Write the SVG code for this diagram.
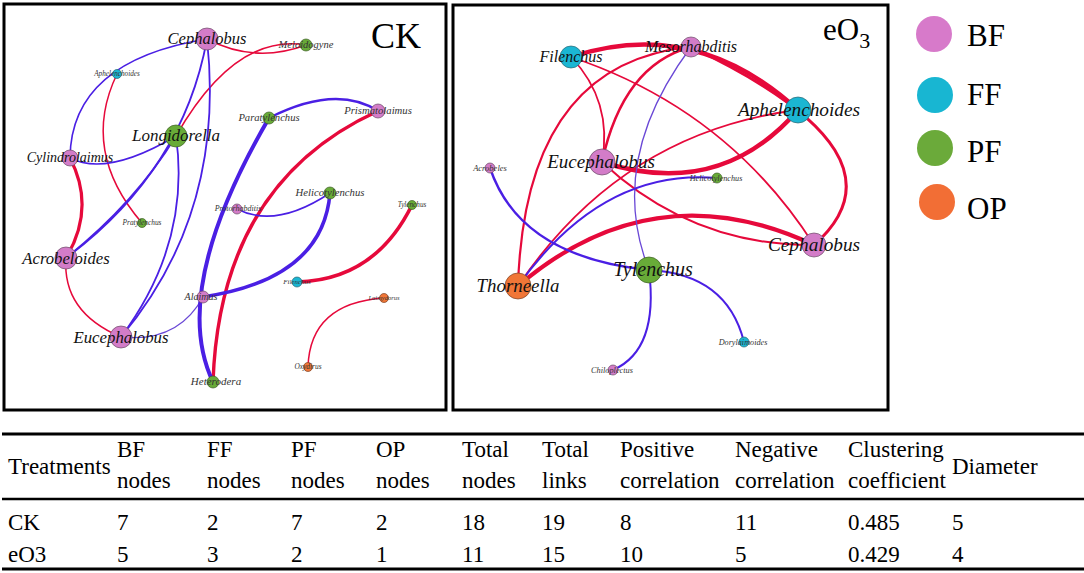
<svg xmlns="http://www.w3.org/2000/svg" width="1084" height="573" viewBox="0 0 1084 573">
<style>
.bg{fill:#fff}
.box{fill:none;stroke:#000;stroke-width:3}
.e{fill:none;stroke-linecap:round}
.pos{stroke:#E6093B}
.neg{stroke:#4A1FE4}
.negl{stroke:#6A48D6}
.bf{fill:#D37CC8;stroke:#6a4a66;stroke-width:0.7}
.ff{fill:#1BB6D3;stroke:#2a6672;stroke-width:0.7}
.pf{fill:#68AB38;stroke:#3d5f25;stroke-width:0.7}
.op{fill:#F17637;stroke:#7a4426;stroke-width:0.7}
.lb{font-family:"Liberation Serif",serif;font-style:italic;fill:#111;text-anchor:middle}
.sl{font-family:"Liberation Serif",serif;font-style:italic;fill:#333;text-anchor:middle}
.ttl{font-family:"Liberation Serif",serif;fill:#000}
.tb{font-family:"Liberation Serif",serif;font-size:23px;fill:#000}
.rule{stroke:#000}
</style>
<rect class="bg" x="0" y="0" width="1084" height="573"/>

<!-- Panel frames -->
<rect class="box" x="4" y="4" width="442" height="406"/>
<rect class="box" x="453" y="5" width="435" height="405"/>
<text class="ttl" x="371" y="48" font-size="36">CK</text>
<text class="ttl" x="823" y="40" font-size="31">eO<tspan font-size="22" dy="8">3</tspan></text>

<!-- Connectors -->
<g id="connectors">
  <!-- CK positive -->
  <path class="e pos" stroke-width="1.6" d="M207,39 Q255,64 306,45"/>
  <path class="e pos" stroke-width="1.6" d="M176,136 Q235,33 306,45"/>
  <path class="e pos" stroke-width="1.5" d="M117,74 Q80,151 142,223"/>
  <path class="e pos" stroke-width="3.2" d="M70,158 Q96,208 66,258"/>
  <path class="e pos" stroke-width="1.5" d="M66,258 Q62,312 121,337"/>
  <path class="e pos" stroke-width="3.4" d="M378,111 Q220,183 213,382"/>
  <path class="e pos" stroke-width="3.6" d="M412,205 Q375,280 297,282"/>
  <path class="e pos" stroke-width="1.5" d="M384,298 Q310,303 308,367"/>
  <!-- CK negative -->
  <path class="e neg" stroke-width="1.6" d="M207,39 Q71,61 70,158"/>
  <path class="e neg" stroke-width="1.6" d="M70,158 Q107,177 176,136"/>
  <path class="e neg" stroke-width="1.8" d="M176,136 Q135,203 66,258"/>
  <path class="e neg" stroke-width="1.8" d="M207,39 Q183,171 66,258"/>
  <path class="e neg" stroke-width="1.8" d="M176,136 Q191,243 121,337"/>
  <path class="e neg" stroke-width="1.8" d="M207,39 Q226,212 121,337"/>
  <path class="e negl" stroke-width="1.3" d="M121,337 Q178,343 203,297"/>
  <path class="e neg" stroke-width="4" d="M269,118 Q169,290 213,382"/>
  <path class="e neg" stroke-width="2.5" d="M269,118 Q336,84 378,111"/>
  <path class="e neg" stroke-width="3.5" d="M330,193 Q323,279 203,297"/>
  <path class="e neg" stroke-width="1.6" d="M330,193 Q276,229 237,209"/>
  <!-- eO3 positive -->
  <path class="e pos" stroke-width="4.5" d="M571,57 Q695,16 798,110"/>
  <path class="e pos" stroke-width="4.5" d="M602,162 Q720,200 798,110"/>
  <path class="e pos" stroke-width="3" d="M691,47 Q917,154 814,245"/>
  <path class="e pos" stroke-width="1.8" d="M571,57 Q727,109 814,245"/>
  <path class="e pos" stroke-width="1.8" d="M571,57 Q613,101 602,162"/>
  <path class="e pos" stroke-width="2.5" d="M602,162 Q623,65 691,47"/>
  <path class="e pos" stroke-width="2.2" d="M518,286 Q525,63 691,47"/>
  <path class="e pos" stroke-width="1.8" d="M518,286 Q622,132 798,110"/>
  <path class="e pos" stroke-width="4.2" d="M518,286 Q654,170 814,245"/>
  <path class="e pos" stroke-width="2" d="M602,162 Q692,246 814,245"/>
  <!-- eO3 negative -->
  <path class="e neg" stroke-width="2.4" d="M490,168 Q520,257 649,270"/>
  <path class="e neg" stroke-width="2" d="M649,270 Q659,350 613,370"/>
  <path class="e neg" stroke-width="2" d="M649,270 Q727,274 744,342"/>
  <path class="e negl" stroke-width="1.3" d="M691,47 Q606,161 649,270"/>
  <path class="e neg" stroke-width="2" d="M518,286 Q602,168 717,178"/>
</g>

<!-- CK nodes -->
<g id="ck-cephalobus"><circle class="bf" cx="207" cy="39" r="11"/><text class="lb" x="207" y="44" font-size="16.5">Cephalobus</text></g>
<g id="ck-meloidogyne"><circle class="pf" cx="306" cy="45" r="6"/><text class="sl" x="306" y="48" font-size="10.5">Meloidogyne</text></g>
<g id="ck-aphelenchoides"><circle class="ff" cx="117" cy="74" r="4.5"/><text class="sl" x="117" y="76" font-size="7.2">Aphelenchoides</text></g>
<g id="ck-longidorella"><circle class="pf" cx="176" cy="136" r="11"/><text class="lb" x="176" y="141" font-size="17">Longidorella</text></g>
<g id="ck-cylindrolaimus"><circle class="bf" cx="70" cy="158" r="8"/><text class="lb" x="70" y="162" font-size="14">Cylindrolaimus</text></g>
<g id="ck-paratylenchus"><circle class="pf" cx="269" cy="118" r="6"/><text class="sl" x="269" y="121" font-size="10.6">Paratylenchus</text></g>
<g id="ck-prismatolaimus"><circle class="bf" cx="378" cy="111" r="7"/><text class="sl" x="378" y="114" font-size="10.7">Prismatolaimus</text></g>
<g id="ck-helicotylenchus"><circle class="pf" cx="330" cy="193" r="6"/><text class="sl" x="330" y="196" font-size="10.7">Helicotylenchus</text></g>
<g id="ck-tylenchus"><circle class="pf" cx="412" cy="205" r="4.5"/><text class="sl" x="412" y="207" font-size="7.2">Tylenchus</text></g>
<g id="ck-protorhabditis"><circle class="bf" cx="237" cy="209" r="5"/><text class="sl" x="238" y="211" font-size="8">Protorhabditis</text></g>
<g id="ck-pratylenchus"><circle class="pf" cx="142" cy="223" r="4.5"/><text class="sl" x="142" y="225" font-size="7.4">Pratylenchus</text></g>
<g id="ck-acrobeloides"><circle class="bf" cx="66" cy="258" r="11"/><text class="lb" x="66" y="264" font-size="16.7">Acrobeloides</text></g>
<g id="ck-filenchus"><circle class="ff" cx="297" cy="282" r="5"/><text class="sl" x="297" y="284" font-size="7">Filenchus</text></g>
<g id="ck-alaimus"><circle class="bf" cx="203" cy="297" r="6"/><text class="sl" x="201" y="300" font-size="10">Alaimus</text></g>
<g id="ck-laimydorus"><circle class="op" cx="384" cy="298" r="4.5"/><text class="sl" x="384" y="300" font-size="6.5">Laimydorus</text></g>
<g id="ck-eucephalobus"><circle class="bf" cx="121" cy="337" r="11"/><text class="lb" x="121" y="343" font-size="16.8">Eucephalobus</text></g>
<g id="ck-oxydirus"><circle class="op" cx="308" cy="367" r="4.5"/><text class="sl" x="308" y="369" font-size="7.4">Oxydirus</text></g>
<g id="ck-heterodera"><circle class="pf" cx="213" cy="382" r="6"/><text class="sl" x="216" y="385" font-size="11">Heterodera</text></g>

<!-- eO3 nodes -->
<g id="eo3-filenchus"><circle class="ff" cx="571" cy="57" r="11"/><text class="lb" x="571" y="62" font-size="16">Filenchus</text></g>
<g id="eo3-mesorhabditis"><circle class="bf" cx="691" cy="47" r="10"/><text class="lb" x="691" y="52" font-size="16">Mesorhabditis</text></g>
<g id="eo3-aphelenchoides"><circle class="ff" cx="798" cy="110" r="13"/><text class="lb" x="799" y="116" font-size="19.3">Aphelenchoides</text></g>
<g id="eo3-eucephalobus"><circle class="bf" cx="602" cy="162" r="13"/><text class="lb" x="601" y="168" font-size="19">Eucephalobus</text></g>
<g id="eo3-acrobeles"><circle class="bf" cx="490" cy="168" r="5"/><text class="sl" x="490" y="171" font-size="8.5">Acrobeles</text></g>
<g id="eo3-helicotylenchus"><circle class="pf" cx="717" cy="178" r="5"/><text class="sl" x="716" y="181" font-size="8.2">Helicotylenchus</text></g>
<g id="eo3-cephalobus"><circle class="bf" cx="814" cy="245" r="12"/><text class="lb" x="814" y="251" font-size="19.3">Cephalobus</text></g>
<g id="eo3-tylenchus"><circle class="pf" cx="649" cy="270" r="13"/><text class="lb" x="653" y="276" font-size="20">Tylenchus</text></g>
<g id="eo3-thorneella"><circle class="op" cx="518" cy="286" r="13"/><text class="lb" x="518" y="292" font-size="18.9">Thorneella</text></g>
<g id="eo3-dorylaimoides"><circle class="ff" cx="744" cy="342" r="5"/><text class="sl" x="743" y="345" font-size="8.2">Dorylaimoides</text></g>
<g id="eo3-chiloplectus"><circle class="bf" cx="613" cy="370" r="5"/><text class="sl" x="612" y="373" font-size="8.3">Chiloplectus</text></g>

<!-- Legend -->
<g id="legend">
  <circle cx="934" cy="34" r="18" fill="#D77ACA"/><text class="ttl" x="967" y="46" font-size="31">BF</text>
  <circle cx="935" cy="95" r="18" fill="#18B6D2"/><text class="ttl" x="967" y="105" font-size="31">FF</text>
  <circle cx="935" cy="148" r="18" fill="#6BAA3A"/><text class="ttl" x="967" y="162" font-size="31">PF</text>
  <circle cx="937" cy="202" r="18" fill="#F26E35"/><text class="ttl" x="967" y="219" font-size="31">OP</text>
</g>

<!-- Table -->
<g id="table">
  <line class="rule" x1="2" y1="434" x2="1084" y2="434" stroke-width="3"/>
  <line class="rule" x1="2" y1="499" x2="1084" y2="499" stroke-width="2.5"/>
  <line class="rule" x1="2" y1="569" x2="1084" y2="569" stroke-width="3"/>
  <text class="tb" x="8" y="474">Treatments</text>
  <text class="tb" x="117" y="457">BF</text><text class="tb" x="117" y="488">nodes</text>
  <text class="tb" x="207" y="457">FF</text><text class="tb" x="207" y="488">nodes</text>
  <text class="tb" x="291" y="457">PF</text><text class="tb" x="291" y="488">nodes</text>
  <text class="tb" x="376" y="457">OP</text><text class="tb" x="376" y="488">nodes</text>
  <text class="tb" x="462" y="457">Total</text><text class="tb" x="462" y="488">nodes</text>
  <text class="tb" x="542" y="457">Total</text><text class="tb" x="542" y="488">links</text>
  <text class="tb" x="620" y="457">Positive</text><text class="tb" x="620" y="488">correlation</text>
  <text class="tb" x="735" y="457">Negative</text><text class="tb" x="735" y="488">correlation</text>
  <text class="tb" x="848" y="457">Clustering</text><text class="tb" x="848" y="488">coefficient</text>
  <text class="tb" x="952" y="474">Diameter</text>
  <text class="tb" x="8" y="530">CK</text>
  <text class="tb" x="117" y="530">7</text><text class="tb" x="207" y="530">2</text><text class="tb" x="291" y="530">7</text><text class="tb" x="376" y="530">2</text><text class="tb" x="462" y="530">18</text><text class="tb" x="542" y="530">19</text><text class="tb" x="620" y="530">8</text><text class="tb" x="735" y="530">11</text><text class="tb" x="848" y="530">0.485</text><text class="tb" x="952" y="530">5</text>
  <text class="tb" x="8" y="562">eO3</text>
  <text class="tb" x="117" y="562">5</text><text class="tb" x="207" y="562">3</text><text class="tb" x="291" y="562">2</text><text class="tb" x="376" y="562">1</text><text class="tb" x="462" y="562">11</text><text class="tb" x="542" y="562">15</text><text class="tb" x="620" y="562">10</text><text class="tb" x="735" y="562">5</text><text class="tb" x="848" y="562">0.429</text><text class="tb" x="952" y="562">4</text>
</g>
</svg>
